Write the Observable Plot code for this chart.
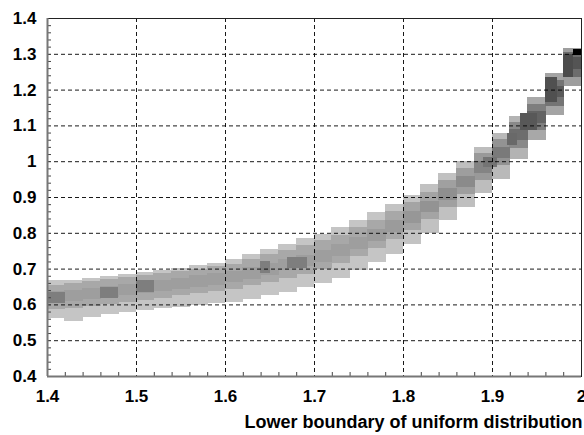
<!DOCTYPE html>
<html><head><meta charset="utf-8">
<script src="https://cdn.jsdelivr.net/npm/d3@7"></script>
<script src="https://cdn.jsdelivr.net/npm/@observablehq/plot@0.6"></script>
<style>
html,body{margin:0;padding:0;background:#fff;overflow:hidden}
#chart svg text{font-family:"Liberation Sans",Arial,sans-serif;font-weight:bold}
</style>
</head><body><div id="chart"></div>
<script>
// column centres of the binned band (x)
const colX = [1.41,1.43,1.45,1.47,1.49,1.51,1.53,1.55,1.57,1.59,1.61,1.63,1.65,1.67,1.69,1.71,1.73,1.75,1.77,1.79,1.81,1.83,1.85,1.87,1.89,1.91,1.93,1.95,1.97,1.99];
// outer light envelope
const lightLo = [0.562,0.555,0.566,0.574,0.58,0.585,0.59,0.594,0.598,0.603,0.608,0.615,0.625,0.636,0.648,0.66,0.675,0.695,0.718,0.742,0.768,0.8,0.835,0.872,0.91,0.95,1.005,1.06,1.13,1.21];
const lightHi = [0.667,0.668,0.673,0.68,0.685,0.69,0.697,0.703,0.71,0.717,0.727,0.742,0.755,0.77,0.785,0.797,0.815,0.835,0.857,0.88,0.905,0.935,0.967,1.0,1.04,1.08,1.125,1.18,1.245,1.315];
const lightShade = [0.06,0.06,0.06,0.06,0.06,0.06,0.06,0.06,0.06,0.06,0.06,0.06,0.06,0.06,0.06,0.06,0.06,0.06,0.06,0.07,0.07,0.08,0.08,0.09,0.1,0.12,0.15,0.2,0.22,0.25];
// middle density band
const midLo = [0.587,0.591,0.596,0.602,0.607,0.613,0.619,0.625,0.631,0.637,0.644,0.653,0.663,0.675,0.686,0.698,0.715,0.735,0.757,0.782,0.807,0.838,0.872,0.907,0.947,0.988,1.036,1.087,1.155,1.235];
const midHi = [0.655,0.66,0.664,0.67,0.676,0.682,0.688,0.694,0.7,0.706,0.714,0.726,0.74,0.753,0.766,0.78,0.795,0.815,0.836,0.86,0.885,0.915,0.948,0.982,1.022,1.062,1.11,1.16,1.228,1.305];
const midShade = [0.2,0.2,0.2,0.2,0.2,0.2,0.2,0.2,0.2,0.2,0.2,0.2,0.2,0.2,0.2,0.2,0.2,0.2,0.2,0.2,0.22,0.22,0.24,0.25,0.27,0.3,0.35,0.4,0.45,0.48];
// dense core
const coreLo = [0.605,0.609,0.614,0.62,0.625,0.631,0.637,0.643,0.649,0.655,0.662,0.672,0.683,0.695,0.707,0.719,0.736,0.756,0.778,0.803,0.828,0.858,0.893,0.928,0.968,1.008,1.058,1.108,1.178,1.258];
const coreHi = [0.637,0.641,0.646,0.652,0.657,0.663,0.669,0.675,0.681,0.687,0.694,0.704,0.715,0.727,0.739,0.751,0.768,0.788,0.81,0.835,0.86,0.89,0.925,0.96,1.0,1.04,1.09,1.14,1.21,1.29];
const coreShade = [0.25,0.25,0.25,0.25,0.25,0.25,0.25,0.25,0.25,0.25,0.25,0.25,0.25,0.25,0.25,0.25,0.25,0.25,0.26,0.26,0.28,0.3,0.32,0.34,0.37,0.42,0.48,0.53,0.57,0.6];
// individual dense cells
const blockX1 = [1.40,1.46,1.50,1.639,1.67,1.890,1.917,1.931,1.960,1.980,1.991];
const blockX2 = [1.42,1.48,1.52,1.651,1.692,1.906,1.928,1.951,1.973,1.991,2.0];
const blockY1 = [0.604,0.618,0.636,0.688,0.703,0.984,1.045,1.087,1.165,1.235,1.297];
const blockY2 = [0.635,0.648,0.668,0.722,0.732,1.012,1.08,1.135,1.235,1.30,1.313];
const blockShade = [0.4,0.4,0.4,0.4,0.4,0.45,0.5,0.58,0.62,0.64,1.0];
// axes
const xTicks = [1.4,1.5,1.6,1.7,1.8,1.9,2.0];
const xTickLabels = ["1.4","1.5","1.6","1.7","1.8","1.9","2"];
const yTicks = [0.4,0.5,0.6,0.7,0.8,0.9,1.0,1.1,1.2,1.3,1.4];
const yTickLabels = ["0.4","0.5","0.6","0.7","0.8","0.9","1","1.1","1.2","1.3","1.4"];
const xTitle = "Lower boundary of uniform distribution";

const cols = colX.map((x, i) => ({
  x, lightLo: lightLo[i], lightHi: lightHi[i], lightShade: lightShade[i],
  midLo: midLo[i], midHi: midHi[i], midShade: midShade[i],
  coreLo: coreLo[i], coreHi: coreHi[i], coreShade: coreShade[i]
}));
const blocks = blockX1.map((x1, i) => ({x1, x2: blockX2[i], y1: blockY1[i], y2: blockY2[i], shade: blockShade[i]}));
const xMinor = d3.range(70, 100, 1).map(k => k / 50).filter(v => Math.abs(v * 10 - Math.round(v * 10)) > 1e-6);
const yMinor = d3.range(20, 70, 1).map(k => k / 50).filter(v => Math.abs(v * 10 - Math.round(v * 10)) > 1e-6);
const hw = 0.0105;

const chart = Plot.plot({
  width: 584, height: 435,
  marginLeft: 47, marginRight: 3, marginTop: 18, marginBottom: 59,
  style: {fontFamily: "'Liberation Sans', Arial, sans-serif", fontWeight: "bold", color: "#000", background: "#fff"},
  x: {domain: [1.4, 2.0]},
  y: {domain: [0.4, 1.4]},
  color: {type: "linear", domain: [0, 1], range: ["#d2d2d2", "#000000"]},
  marks: [
    Plot.rect(cols, {x1: d => d.x - hw, x2: d => d.x + hw, y1: "lightLo", y2: "lightHi", fill: "lightShade", shapeRendering: "crispEdges"}),
    Plot.rect(cols, {x1: d => d.x - hw, x2: d => d.x + hw, y1: "midLo", y2: "midHi", fill: "midShade", shapeRendering: "crispEdges"}),
    Plot.rect(cols, {x1: d => d.x - hw, x2: d => d.x + hw, y1: "coreLo", y2: "coreHi", fill: "coreShade", shapeRendering: "crispEdges"}),
    Plot.rect(blocks, {x1: "x1", x2: "x2", y1: "y1", y2: "y2", fill: "shade", shapeRendering: "crispEdges"}),
    Plot.gridX(xTicks.slice(1, -1), {stroke: "#000", strokeOpacity: 0.9, strokeDasharray: "4,3"}),
    Plot.gridY(yTicks.slice(1, -1), {stroke: "#000", strokeOpacity: 0.9, strokeDasharray: "4,3"}),
    Plot.frame({stroke: "#222", strokeWidth: 1}),
    Plot.axisX(xMinor, {anchor: "bottom", tickSize: -4, tickFormat: () => "", stroke: "#444", label: null}),
    Plot.axisY(yMinor, {anchor: "left", tickSize: -4, tickFormat: () => "", stroke: "#444", label: null}),
    Plot.axisX(xTicks, {anchor: "bottom", tickSize: 0, tickPadding: 13, fontSize: 17, fontWeight: "bold",
      tickFormat: d => xTickLabels[xTicks.findIndex(t => Math.abs(t - d) < 1e-9)], label: null}),
    Plot.axisY(yTicks, {anchor: "left", tickSize: 0, tickPadding: 11, fontSize: 17, fontWeight: "bold",
      tickFormat: d => yTickLabels[yTicks.findIndex(t => Math.abs(t - d) < 1e-9)], label: null}),
    Plot.ruleX([1.4], {stroke: "#777", strokeWidth: 2}),
    Plot.ruleY([0.4], {stroke: "#777", strokeWidth: 2}),
    Plot.text([xTitle], {frameAnchor: "bottom-right", textAnchor: "end", lineAnchor: "bottom", dy: 51, dx: 1, fontSize: 18, fontWeight: "bold", fill: "#000"})
  ]
});
document.getElementById("chart").appendChild(chart);
</script>
</body></html>
